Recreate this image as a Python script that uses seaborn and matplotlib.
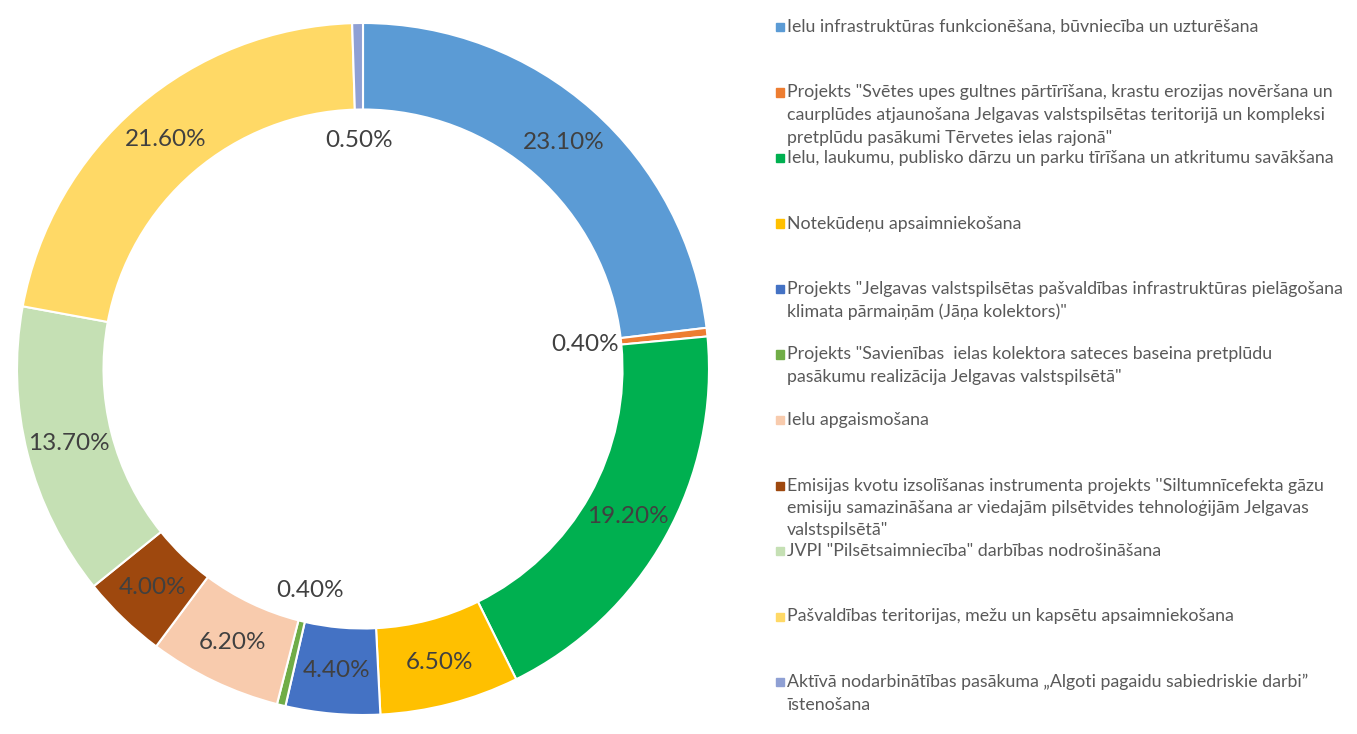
import numpy as np
import matplotlib.pyplot as plt
import seaborn as sns
from matplotlib.patches import Rectangle

sns.set_theme(style="white")
plt.rcParams['font.family'] = ['Lato', 'DejaVu Sans']

# budget shares, percent
categories = [
    "Ielu infrastruktūras funkcionēšana, būvniecība un uzturēšana",
    'Projekts "Svētes upes gultnes pārtīrīšana, krastu erozijas novēršana un\n'
    'caurplūdes atjaunošana Jelgavas valstspilsētas teritorijā un kompleksi\n'
    'pretplūdu pasākumi Tērvetes ielas rajonā"',
    "Ielu, laukumu, publisko dārzu un parku tīrīšana un atkritumu savākšana",
    "Notekūdeņu apsaimniekošana",
    'Projekts "Jelgavas valstspilsētas pašvaldības infrastruktūras pielāgošana\n'
    'klimata pārmaiņām (Jāņa kolektors)"',
    'Projekts "Savienības  ielas kolektora sateces baseina pretplūdu\n'
    'pasākumu realizācija Jelgavas valstspilsētā"',
    "Ielu apgaismošana",
    "Emisijas kvotu izsolīšanas instrumenta projekts ''Siltumnīcefekta gāzu\n"
    "emisiju samazināšana ar viedajām pilsētvides tehnoloģijām Jelgavas\n"
    'valstspilsētā"',
    'JVPI "Pilsētsaimniecība" darbības nodrošināšana',
    "Pašvaldības teritorijas, mežu un kapsētu apsaimniekošana",
    "Aktīvā nodarbinātības pasākuma „Algoti pagaidu sabiedriskie darbi”\nīstenošana",
]
shares = [23.1, 0.4, 19.2, 6.5, 4.4, 0.4, 6.2, 4.0, 13.7, 21.6, 0.5]
colors = ["#5B9BD5", "#ED7D31", "#00B050", "#FFC000", "#4472C4", "#70AD47",
          "#F8CBAD", "#9E480E", "#C5E0B4", "#FFD966", "#8FA0D4"]

W, H = 1357, 734
fig = plt.figure(figsize=(W / 100, H / 100), dpi=100)
cx, cy, R = 363, 369, 346
ax = fig.add_axes([(cx - R) / W, (H - cy - R) / H, 2 * R / W, 2 * R / H])

wedges, texts, autotexts = ax.pie(
    shares, colors=colors, startangle=90, counterclock=False,
    radius=1.0, autopct='%.2f%%', pctdistance=0.876,
    wedgeprops=dict(width=0.25, edgecolor="white", linewidth=1.5),
    textprops=dict(color="#404040", fontsize=17.5),
)
# tiny slices: label sits inside the hole
for w, t, v in zip(wedges, autotexts, shares):
    if v < 1:
        ang = np.deg2rad((w.theta1 + w.theta2) / 2)
        t.set_position((0.645 * np.cos(ang), 0.66 * np.sin(ang)))
ax.set_xlim(-1, 1)
ax.set_ylim(-1, 1)
ax.axis("off")

# legend, one slot per entry like the Excel layout
for i, (lab, col) in enumerate(zip(categories, colors)):
    y = 27 + 65.5 * i
    fig.patches.append(Rectangle((776 / W, 1 - (y + 4) / H), 8 / W, 8 / H,
                                 transform=fig.transFigure, color=col))
    fig.text(787 / W, 1 - (y - 8) / H, lab, ha="left", va="top",
             fontsize=12.8, color="#595959", linespacing=1.5)

fig.savefig("out.png", dpi=100, facecolor="white")
